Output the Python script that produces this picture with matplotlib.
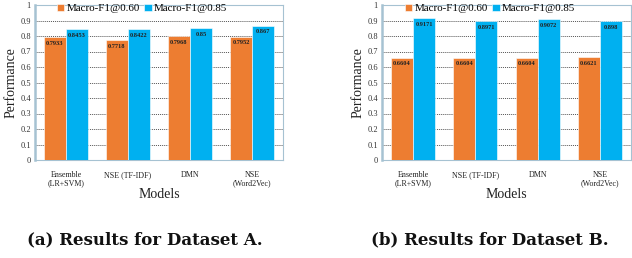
import matplotlib
matplotlib.use("Agg")
import matplotlib.pyplot as plt
import numpy as np

categories = ["Ensemble\n(LR+SVM)", "NSE (TF-IDF)", "DMN", "NSE\n(Word2Vec)"]
series_names = ["Macro-F1@0.60", "Macro-F1@0.85"]
a_060 = [0.7933, 0.7718, 0.7968, 0.7952]
a_085 = [0.8453, 0.8422, 0.85, 0.867]
a_labels_060 = ["0.7933", "0.7718", "0.7968", "0.7952"]
a_labels_085 = ["0.8453", "0.8422", "0.85", "0.867"]
b_060 = [0.6604, 0.6604, 0.6604, 0.6621]
b_085 = [0.9171, 0.8971, 0.9072, 0.898]
b_labels_060 = ["0.6604", "0.6604", "0.6604", "0.6621"]
b_labels_085 = ["0.9171", "0.8971", "0.9072", "0.898"]
yticks = [0, 0.1, 0.2, 0.3, 0.4, 0.5, 0.6, 0.7, 0.8, 0.9, 1]
titles = ["(a) Results for Dataset A.", "(b) Results for Dataset B."]

ORANGE = "#ED7D31"
BLUE = "#00B0F0"
FRAME = "#A6C2D2"
SERIF = ["Liberation Serif", "DejaVu Serif"]

W, H = 632, 258
fig = plt.figure(figsize=(W / 100, H / 100), dpi=100)


def panel(left_px, width_px, v1, v2, l1, l2, title, title_cx, leg_cx):
    ax = fig.add_axes([left_px / W, (H - 160) / H, width_px / W, 155 / H])
    x = np.arange(len(categories))
    bw = 0.355
    ax.bar(x - bw / 2, v1, bw, color=ORANGE, label=series_names[0], zorder=3,
           edgecolor="white", linewidth=0.4)
    ax.bar(x + bw / 2, v2, bw, color=BLUE, label=series_names[1], zorder=3,
           edgecolor="white", linewidth=0.4)
    for xi, v, s in zip(x, v1, l1):
        ax.text(xi - bw / 2, v - 0.04, s, ha="center", va="center", fontsize=4.6,
                fontweight="bold", family=SERIF, color="#222222", zorder=4)
    for xi, v, s in zip(x, v2, l2):
        ax.text(xi + bw / 2, v - 0.04, s, ha="center", va="center", fontsize=4.6,
                fontweight="bold", family=SERIF, color="#222222", zorder=4)
    ax.set_xlim(-0.5, len(categories) - 0.5)
    ax.set_ylim(0, 1)
    ax.set_yticks(yticks)
    ax.set_yticklabels([("%g" % t) for t in yticks], family=SERIF, fontsize=6,
                       color="#333333")
    ax.set_xticks(x)
    ax.set_xticklabels(categories, family=SERIF, fontsize=5.8, color="#222222",
                       linespacing=1.0)
    ax.tick_params(axis="both", length=0, pad=3)
    ax.tick_params(axis="x", pad=8)
    ax.yaxis.grid(True, linestyle=(0, (1, 1)), color="#555555", linewidth=0.7,
                  zorder=0)
    ax.set_axisbelow(True)
    for sp in ax.spines.values():
        sp.set_color(FRAME)
        sp.set_linewidth(0.8)
    ax.spines["left"].set_linewidth(1.8)
    ax.set_ylabel("Performance", family=SERIF, fontsize=10, color="#222222",
                  labelpad=2)
    ax.set_xlabel("Models", family=SERIF, fontsize=10, color="#222222", labelpad=1)
    ax.legend(loc="upper center",
              bbox_to_anchor=((leg_cx - left_px) / width_px, 1.045), ncol=2,
              frameon=False, prop={"family": SERIF, "size": 7.9},
              handlelength=0.7, handleheight=0.7, handletextpad=0.2,
              columnspacing=0.4, borderaxespad=0.1)
    fig.text(title_cx / W, 1 - 240 / H, title, ha="center", va="center",
             family=["DejaVu Serif"], fontweight="bold", fontsize=12,
             color="#111111")
    return ax


panel(35, 248, a_060, a_085, a_labels_060, a_labels_085, titles[0], 145, 142)
panel(382, 249, b_060, b_085, b_labels_060, b_labels_085, titles[1], 490, 490)

fig.savefig("out.png", dpi=100)
